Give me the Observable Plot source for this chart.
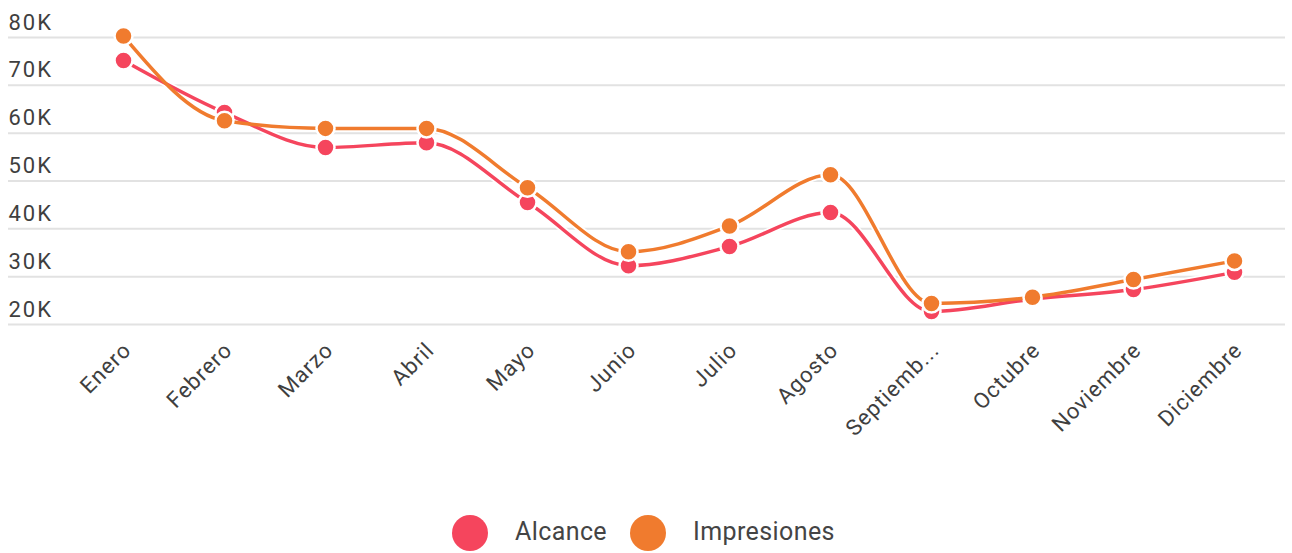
<!DOCTYPE html>
<html>
<head>
<meta charset="utf-8">
<script src="https://cdn.jsdelivr.net/npm/d3@7"></script>
<script src="https://cdn.jsdelivr.net/npm/@observablehq/plot@0.6"></script>
<style>
  html, body { margin: 0; padding: 0; background: #fff; }
  body { width: 1292px; height: 553px; overflow: hidden; font-family: Roboto, "Noto Sans", sans-serif; position: relative; }
  #legend { position: absolute; left: 0; top: 480px; width: 1292px; height: 73px; }
  .sw { position: absolute; width: 36px; height: 36px; border-radius: 50%; top: 35px; }
  .lab { position: absolute; font-size: 25px; letter-spacing: 0.4px; color: #444; top: 37px; line-height: 30px; }
  .yt text { letter-spacing: 2px; }
  .xt text { letter-spacing: 1px; }
</style>
</head>
<body>
<div id="chart"></div>
<div id="legend"></div>
<script>
const months = ["Enero","Febrero","Marzo","Abril","Mayo","Junio","Julio","Agosto","Septiembre","Octubre","Noviembre","Diciembre"];
const alcance = [75200, 64300, 57000, 58000, 45500, 32300, 36300, 43400, 22700, 25300, 27300, 30900];
const impresiones = [80300, 62600, 61000, 61000, 48600, 35200, 40600, 51300, 24400, 25700, 29400, 33300];
const seriesNames = ["Alcance", "Impresiones"];
const seriesColors = ["#f5455d", "#f07b2e"];
const yTicks = [20000, 30000, 40000, 50000, 60000, 70000, 80000];

const data = [];
months.forEach((m, i) => {
  data.push({month: m, value: alcance[i], series: seriesNames[0]});
  data.push({month: m, value: impresiones[i], series: seriesNames[1]});
});

const chart = Plot.plot({
  width: 1292,
  height: 480,
  marginLeft: 120,
  marginRight: 56,
  marginTop: 37,
  marginBottom: 156,
  style: {fontFamily: "Roboto, 'Noto Sans', sans-serif", background: "#fff"},
  x: {type: "point", domain: months, padding: 0, label: null},
  y: {domain: [20000, 80000], label: null},
  color: {domain: seriesNames, range: seriesColors},
  marks: [
    Plot.ruleY(yTicks, {stroke: "#e2e2e2", strokeWidth: 2, insetLeft: -112, insetRight: -49}),
    Plot.axisY(yTicks, {
      anchor: "left", tickSize: 0, tickPadding: 0, dx: -112, dy: -15,
      textAnchor: "start", fontSize: 22, fill: "#3f3f3f", label: null, className: "yt",
      tickFormat: d => (d / 1000) + "K"
    }),
    Plot.axisX({
      anchor: "bottom", tickSize: 0, tickPadding: 22, tickRotate: -45, dx: 4,
      fontSize: 22, fill: "#3f3f3f", label: null, className: "xt",
      tickFormat: d => d.length > 9 ? d.slice(0, 8) + "..." : d
    }),
    Plot.line(data, {x: "month", y: "value", z: "series", stroke: "#fff", strokeWidth: 7, curve: "monotone-x"}),
    Plot.line(data.filter(d => d.series === "Alcance"), {x: "month", y: "value", stroke: "series", strokeWidth: 3.5, curve: "monotone-x"}),
    Plot.dot(data.filter(d => d.series === "Alcance"), {x: "month", y: "value", fill: "series", r: 9, stroke: "#fff", strokeWidth: 2.5}),
    Plot.line(data.filter(d => d.series === "Impresiones"), {x: "month", y: "value", stroke: "series", strokeWidth: 3.5, curve: "monotone-x"}),
    Plot.dot(data.filter(d => d.series === "Impresiones"), {x: "month", y: "value", fill: "series", r: 9, stroke: "#fff", strokeWidth: 2.5})
  ]
});
document.getElementById("chart").appendChild(chart);

const legend = document.getElementById("legend");
const swLeft = [452, 630];
const labLeft = [515, 693];
seriesNames.forEach((name, i) => {
  const sw = document.createElement("span");
  sw.className = "sw";
  sw.style.left = swLeft[i] + "px";
  sw.style.background = seriesColors[i];
  legend.appendChild(sw);
  const lab = document.createElement("span");
  lab.className = "lab";
  lab.style.left = labLeft[i] + "px";
  lab.textContent = name;
  legend.appendChild(lab);
});
</script>
</body>
</html>
